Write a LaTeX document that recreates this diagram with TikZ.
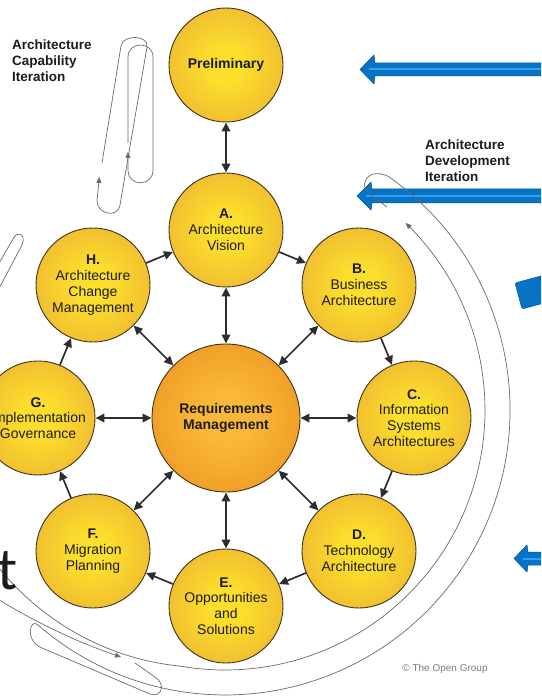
\documentclass[tikz,border=0pt]{standalone}
\usepackage{fontspec}
\setmainfont{Liberation Sans}
\newfontfamily\slidefont{Carlito}
\usetikzlibrary{arrows.meta}

\definecolor{ballin}{RGB}{252,222,44}
\definecolor{ballout}{RGB}{241,192,48}
\definecolor{reqin}{RGB}{250,184,58}
\definecolor{reqout}{RGB}{240,160,40}
\definecolor{rim}{RGB}{62,50,30}
\definecolor{arr}{RGB}{45,45,45}
\definecolor{blueA}{RGB}{8,114,196}
\definecolor{blueB}{RGB}{0,86,160}
\definecolor{blueC}{RGB}{52,160,245}
\definecolor{loopc}{RGB}{105,105,105}
\definecolor{txt}{RGB}{28,28,28}

\pgfdeclareradialshading{ballsh}{\pgfpointorigin}{color(0bp)=(ballin); color(8bp)=(ballin); color(25bp)=(ballout); color(50bp)=(ballout)}
\pgfdeclareradialshading{reqsh}{\pgfpointorigin}{color(0bp)=(reqin); color(8bp)=(reqin); color(25bp)=(reqout); color(50bp)=(reqout)}

\tikzset{
  phase/.style={circle, draw=rim, line width=0.9pt, minimum size=114pt, inner sep=0pt,
    shade, shading=ballsh, align=center, text=txt, font=\fontsize{14}{15.8}\selectfont},
  reqnode/.style={circle, draw=rim, line width=0.9pt, minimum size=148pt, inner sep=0pt,
    shade, shading=reqsh, align=center, text=txt, font=\bfseries\fontsize{14}{16}\selectfont},
  tipA/.tip={Triangle[length=9pt,width=8.5pt]},
  link/.style={draw=arr, line width=1.7pt, -tipA},
  both/.style={draw=arr, line width=1.7pt, tipA-tipA},
  iter/.style={draw=loopc, line width=0.7pt},
  itertip/.tip={Triangle[length=6pt,width=5pt]},
  itlabel/.style={anchor=north west, inner sep=0pt, align=left, text=txt,
    font=\bfseries\fontsize{13.5}{16}\selectfont},
  bluebody/.style={fill=blueA, draw=blueB, line width=0.5pt},
  bluestripe/.style={draw=blueC, line width=2pt}
}

\begin{document}
\begin{tikzpicture}[x=1pt,y=1pt]
\useasboundingbox (0,0) rectangle (541,-700);
\clip (0,0) rectangle (541,-700);

% blue arrows (slide background)
\filldraw[bluebody] (560,-63) -- (375,-63) -- (374,-55) -- (360,-69.5) -- (374,-84) -- (375,-76) -- (560,-76) -- cycle;
\draw[bluestripe] (369,-69.5) -- (560,-69.5);
\filldraw[bluebody] (560,-189) -- (372,-189) -- (371,-182) -- (357,-196) -- (371,-210) -- (372,-203) -- (560,-203) -- cycle;
\draw[bluestripe] (366,-196) -- (560,-196);
\filldraw[bluebody] (560,-552) -- (528,-552) -- (527,-545) -- (514,-558.5) -- (527,-572) -- (528,-565) -- (560,-565) -- cycle;
\draw[bluestripe] (523,-558.5) -- (560,-558.5);
\filldraw[bluebody, rounded corners=2pt] (515,-283) -- (552,-273) -- (559,-299) -- (522,-309) -- cycle;

% Architecture Capability Iteration loops
\draw[iter, -itertip] (102,-163) -- (121,-46) .. controls (123,-34) and (149,-35) .. (147,-47)
  -- (120,-205) .. controls (118,-219) and (96,-214) .. (97,-200) -- (99.5,-177);
\draw[iter, -itertip] (128,-143) -- (128,-57) .. controls (128,-41) and (153,-41) .. (153,-57)
  -- (153,-170) .. controls (153,-187) and (128,-187) .. (128,-170) -- (128,-152);

% left hairpin
\draw[iter] (-6,-272) -- (13,-239) .. controls (16,-231) and (27,-233) .. (22,-245) -- (-6,-298);

% Architecture Development Iteration: inner spiral arc
\draw[iter, -itertip] plot[domain=-152:46, samples=120, smooth]
  ({225+(260+max(0,-\x-100)*0.35)*cos(\x)}, {-410+(260+max(0,-\x-100)*0.35)*sin(\x)});
% outer arc with hook and hairpins
\draw[iter] (387,-207) .. controls (372,-196) and (362,-189) .. (365,-182)
  .. controls (368,-172) and (380,-172) .. (388.5,-176.5)
  arc[start angle=55, end angle=-131, radius=285]
  .. controls (30,-617) and (24,-641) .. (42,-648)
  -- (150,-694) .. controls (162,-698) and (166,-684) .. (155,-677) -- (135,-663);
\draw[iter, -itertip] (-4,-598) .. controls (38,-624) and (80,-643) .. (121,-657);

% phases
\node[phase] (prelim) at (226,-65) {\bfseries Preliminary};
\node[phase] (A) at (226,-230) {\bfseries A.\\Architecture\\Vision};
\node[phase] (B) at (359,-285) {\bfseries B.\\Business\\Architecture};
\node[phase] (C) at (414,-418) {\bfseries C.\\Information\\Systems\\Architectures};
\node[phase] (D) at (359,-551) {\bfseries D.\\Technology\\Architecture};
\node[phase] (E) at (226,-606) {\bfseries E.\\Opportunities\\and\\Solutions};
\node[phase] (F) at (93,-551) {\bfseries F.\\Migration\\Planning};
\node[phase] (G) at (38,-418) {\bfseries G.\\Implementation\\Governance};
\node[phase] (H) at (93,-285) {\bfseries H.\\Architecture\\Change\\Management};
\node[reqnode] (req) at (226,-418) {Requirements\\Management};

% connectors
\draw[both] (prelim) -- (A);
\foreach \n in {A,B,C,D,E,F,G,H} { \draw[both] (req) -- (\n); }
\draw[link] (A) -- (B);
\draw[link] (B) -- (C);
\draw[link] (C) -- (D);
\draw[link] (D) -- (E);
\draw[link] (E) -- (F);
\draw[link] (F) -- (G);
\draw[link] (G) -- (H);
\draw[link] (H) -- (A);

% labels
\node[itlabel] (capiter) at (12,-39.5) {Architecture\\Capability\\Iteration};
\node[itlabel] (deviter) at (425,-140) {Architecture\\Development\\Iteration};
\node[anchor=center, inner sep=0pt, text={rgb,255:red,125;green,125;blue,125}, font=\fontsize{10}{12}\selectfont] (copy) at (445,-669) {\textcopyright{} The Open Group};
\node[anchor=base west, inner sep=0pt, text=txt] (slidet) at (-3,-589) {\slidefont\fontsize{60}{64}\selectfont t};
\end{tikzpicture}
\end{document}
